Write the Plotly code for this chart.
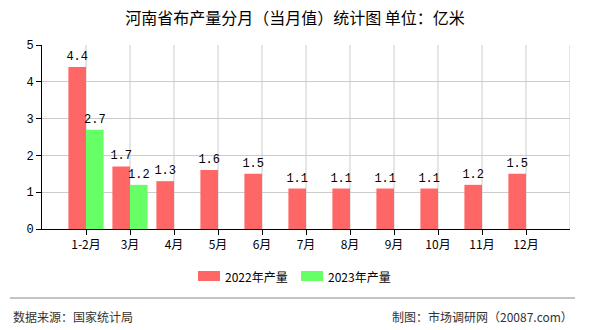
import plotly.graph_objects as go

categories = ["1-2月", "3月", "4月", "5月", "6月", "7月", "8月", "9月", "10月", "11月", "12月"]
values_2022 = [4.4, 1.7, 1.3, 1.6, 1.5, 1.1, 1.1, 1.1, 1.1, 1.2, 1.5]
values_2023 = [2.7, 1.2]
series_names = ["2022年产量", "2023年产量"]
series_colors = ["#FF6666", "#66FF66"]
title_text = "河南省布产量分月（当月值）统计图 单位：亿米"
source_text = "数据来源：国家统计局"
credit_text = "制图：市场调研网（20087.com）"

xpos = list(range(1, len(categories) + 1))
num_font = "Liberation Mono, DejaVu Sans Mono, monospace"
cjk_font = "Noto Sans CJK SC, sans-serif"

L, R, T, B = 42, 20, 45, 101
PW, PH = 590 - L - R, 330 - T - B


def px(x):
    return (x - L) / PW


def py(y):
    return (330 - B - y) / PH


fig = go.Figure()
fig.add_trace(go.Bar(
    x=xpos, y=values_2022, name=series_names[0],
    marker=dict(color=series_colors[0], line=dict(width=0)),
    width=0.4, offset=-0.4,
    text=[f"{v:.1f}" for v in values_2022], textposition="outside", constraintext="none",
    textfont=dict(family=num_font, size=12, color="#000"), cliponaxis=False,
))
fig.add_trace(go.Bar(
    x=xpos[:len(values_2023)], y=values_2023, name=series_names[1],
    marker=dict(color=series_colors[1], line=dict(width=0)),
    width=0.4, offset=0.0,
    text=[f"{v:.1f}" for v in values_2023], textposition="outside", constraintext="none",
    textfont=dict(family=num_font, size=12, color="#000"), cliponaxis=False,
))

fig.update_layout(
    width=590, height=330,
    margin=dict(l=L, r=R, t=T, b=B),
    paper_bgcolor="white", plot_bgcolor="white",
    barmode="overlay",
    title=dict(text=title_text, x=0.5, xanchor="center", y=1 - 18 / 330, yanchor="middle",
               font=dict(family=cjk_font, size=16, color="#000")),
    font=dict(family=cjk_font, size=11, color="#000"),
    showlegend=False,
    xaxis=dict(range=[0, 12], tickmode="array", tickvals=xpos, ticktext=categories,
               showgrid=False, showline=True, linecolor="#000", linewidth=1,
               ticks="outside", ticklen=5, tickcolor="#000",
               tickfont=dict(family=cjk_font, size=12, color="#000"), zeroline=False),
    yaxis=dict(range=[0, 5], dtick=1, showgrid=True, gridcolor="#CCCCCC",
               showline=True, linecolor="#000", linewidth=1,
               ticks="outside", ticklen=5, tickcolor="#000",
               tickfont=dict(family=num_font, size=12, color="#000"), zeroline=False),
)

# vertical gridlines at tick positions
for i in range(1, 13):
    fig.add_shape(type="line", xref="x", yref="paper", x0=i, x1=i, y0=0, y1=1,
                  line=dict(color="#CCCCCC", width=1), layer="below")

# manual legend (wide rectangles)
legend_x = [198, 301]
for name, color, lx in zip(series_names, series_colors, legend_x):
    fig.add_shape(type="rect", xref="paper", yref="paper",
                  x0=px(lx), x1=px(lx + 22), y0=py(271), y1=py(281),
                  fillcolor=color, line=dict(width=0))
    fig.add_annotation(text=name, xref="paper", yref="paper", x=px(lx + 25), xanchor="left",
                       y=py(276), yanchor="middle", showarrow=False,
                       font=dict(family=cjk_font, size=12, color="#000"))

fig.add_shape(type="line", xref="paper", yref="paper", x0=px(10), x1=px(575),
              y0=py(298), y1=py(298), line=dict(color="#888888", width=1))
fig.add_annotation(text=source_text, xref="paper", yref="paper", x=px(11), xanchor="left",
                   y=py(316), yanchor="middle", showarrow=False,
                   font=dict(family=cjk_font, size=12, color="#333"))
fig.add_annotation(text=credit_text, xref="paper", yref="paper", x=px(575), xanchor="right",
                   y=py(316), yanchor="middle", showarrow=False,
                   font=dict(family=cjk_font, size=12, color="#333"))

fig.write_html("out.html")
